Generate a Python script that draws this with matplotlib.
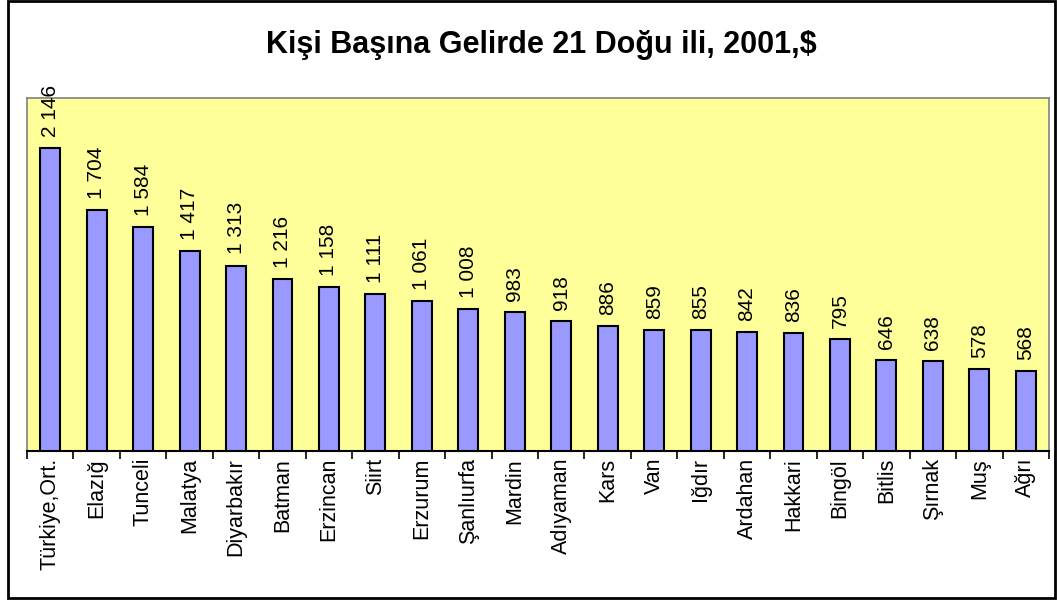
import numpy as np
import matplotlib.pyplot as plt
from matplotlib.patches import Rectangle

plt.rcParams['font.family'] = ['Liberation Sans', 'DejaVu Sans']

provinces = ["Türkiye,Ort.", "Elazığ", "Tunceli", "Malatya", "Diyarbakır", "Batman",
             "Erzincan", "Siirt", "Erzurum", "Şanlıurfa", "Mardin", "Adıyaman", "Kars",
             "Van", "Iğdır", "Ardahan", "Hakkari", "Bingöl", "Bitlis", "Şırnak", "Muş", "Ağrı"]
income = [2146, 1704, 1584, 1417, 1313, 1216, 1158, 1111, 1061, 1008, 983,
          918, 886, 859, 855, 842, 836, 795, 646, 638, 578, 568]
title = "Kişi Başına Gelirde 21 Doğu ili, 2001,$"

fig = plt.figure(figsize=(10.57, 6), dpi=100)
ax = fig.add_axes([27 / 1057, 1 - 451 / 600, 1022 / 1057, 353 / 600])
ax.set_facecolor("#FFFF99")

x = np.arange(len(provinces))
ax.bar(x, income, width=0.43, color="#9999FF", edgecolor="black", linewidth=1.5, zorder=3)

for xi, v in zip(x, income):
    label = f"{v:,}".replace(",", " ")
    ax.annotate(label, (xi, v), xytext=(0, 8), textcoords="offset points",
                rotation=90, ha="center", va="bottom", fontsize=15)

ax.set_xlim(-0.5, len(provinces) - 0.5)
ax.set_ylim(0, 2500)
ax.set_yticks([])
ax.set_xticks(x)
ax.set_xticklabels(provinces, rotation=90, fontsize=15.5)
ax.tick_params(axis="x", length=0, pad=5)
ax.set_xticks(np.arange(len(provinces) + 1) - 0.5, minor=True)
ax.tick_params(axis="x", which="minor", length=6, width=1.2, direction="out")

for side in ["top", "left", "right"]:
    ax.spines[side].set_color("#808080")
    ax.spines[side].set_linewidth(1.2)
ax.spines["bottom"].set_color("black")
ax.spines["bottom"].set_linewidth(1.5)

fig.text(0.512, 1 - 45 / 600, title, ha="center", va="center",
         fontsize=22, fontweight="bold")

fig.patches.append(Rectangle((8 / 1057, 2 / 600), 1047 / 1057, 597 / 600,
                             transform=fig.transFigure, fill=False,
                             edgecolor="black", linewidth=2))

fig.savefig("out.png", dpi=100)
